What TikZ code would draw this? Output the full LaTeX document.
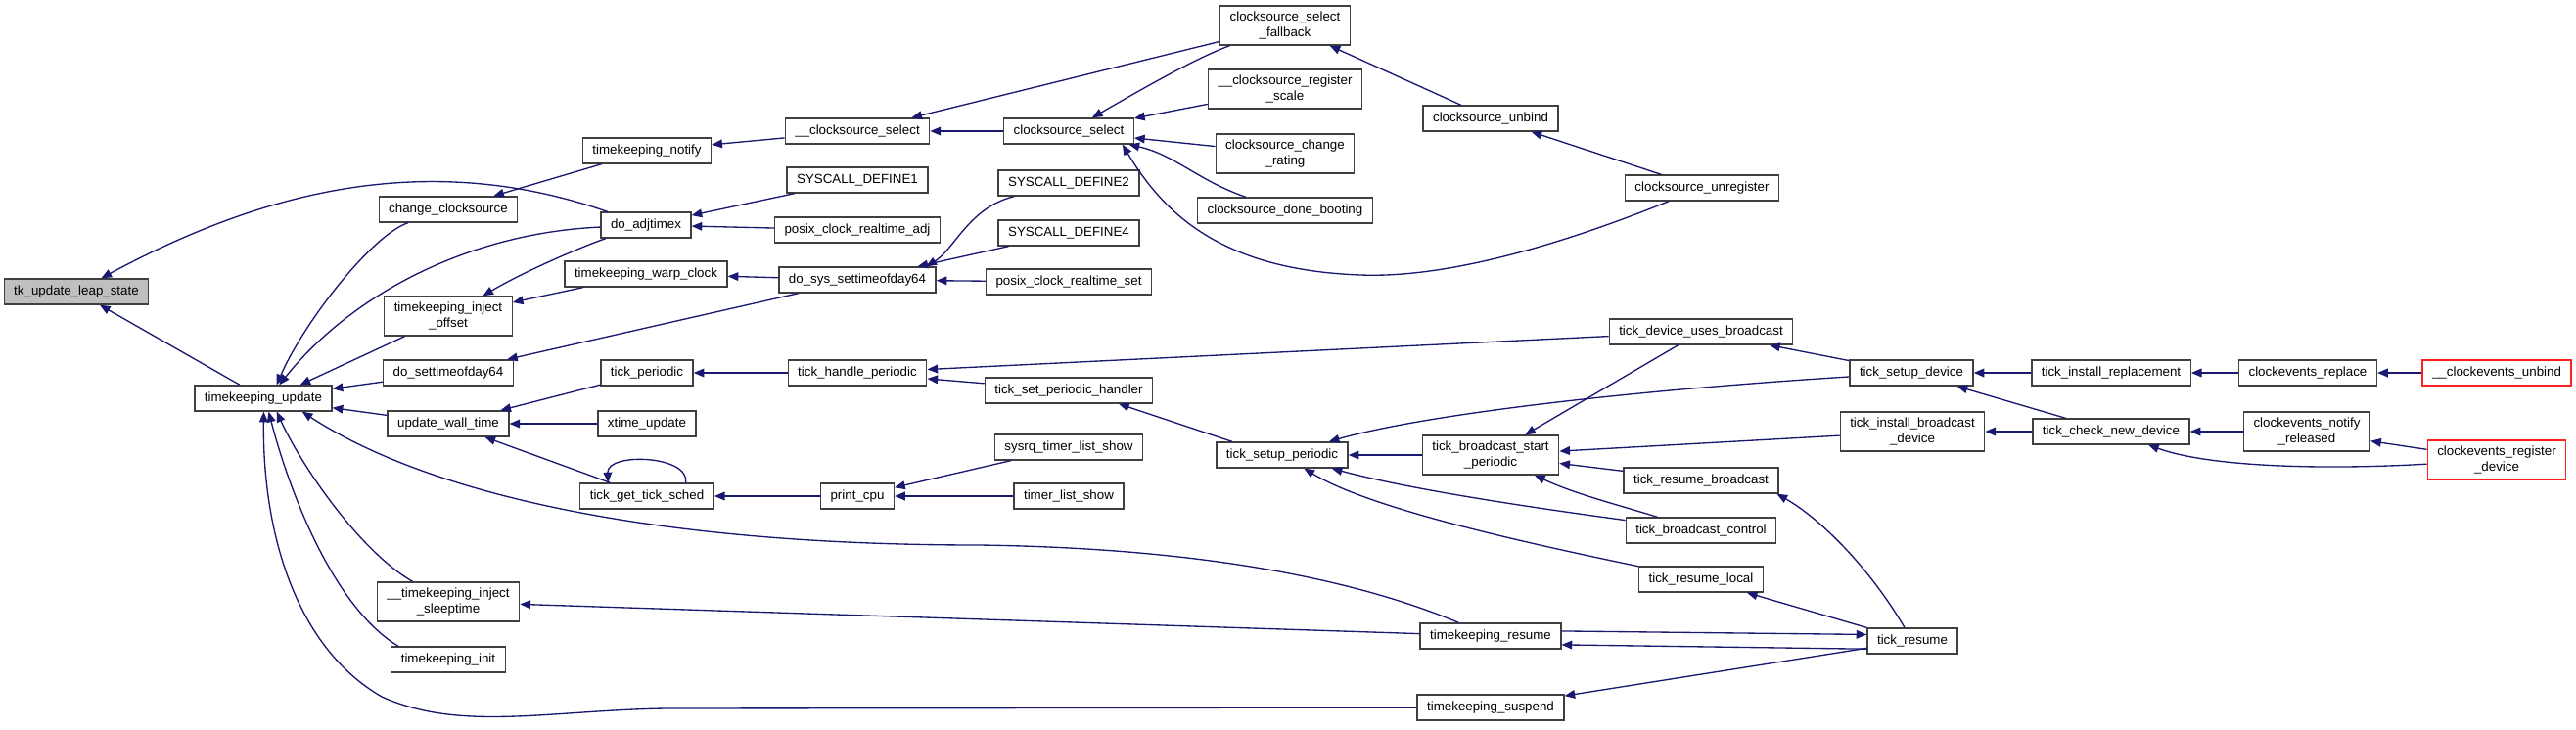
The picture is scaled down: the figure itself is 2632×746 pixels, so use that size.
\documentclass[tikz,border=0pt]{standalone}
\usepackage{fontspec}
\setmainfont{Liberation Sans}
\usetikzlibrary{arrows.meta}

\definecolor{edgeblue}{HTML}{191970}
\definecolor{boxline}{HTML}{404040}
\definecolor{truncred}{HTML}{FF2020}

\begin{document}
\begin{tikzpicture}[x=0.75pt, y=-0.75pt,
  fn/.style={draw=boxline, line width=1pt, fill=white, inner xsep=7.5pt, inner ysep=2pt,
    minimum height=19.5pt, font=\fontsize{10}{11.5}\selectfont},
  twoline/.style={align=center, minimum height=30pt},
  focus/.style={fill=black!25},
  trunc/.style={draw=truncred},
  calls/.style={-{Triangle[length=8pt,width=6.5pt]}, draw=edgeblue, line width=1pt}]

\useasboundingbox (0,0) rectangle (2632,746);

% Functions, column by column
\node[fn, focus] (leap) at (78,298) {tk\_update\_leap\_state};
\node[fn] (tku) at (269,407) {timekeeping\_update};

\node[fn] (chcs) at (458,214) {change\_clocksource};
\node[fn, twoline] (inoff) at (458,323) {timekeeping\_inject\\\_offset};
\node[fn] (dosettod) at (458,381) {do\_settimeofday64};
\node[fn] (uwt) at (458,433) {update\_wall\_time};
\node[fn, twoline] (insleep) at (458,615) {\_\_timekeeping\_inject\\\_sleeptime};
\node[fn] (tkinit) at (458,674) {timekeeping\_init};

\node[fn] (tknotify) at (661,154) {timekeeping\_notify};
\node[fn] (adjtimex) at (660,230) {do\_adjtimex};
\node[fn] (warp) at (660,280) {timekeeping\_warp\_clock};
\node[fn] (tickper) at (661,381) {tick\_periodic};
\node[fn] (xtime) at (661,433) {xtime\_update};
\node[fn] (getsched) at (661,507) {tick\_get\_tick\_sched};

\node[fn] (csselu) at (876,134) {\_\_clocksource\_select};
\node[fn] (sys1) at (876,184) {SYSCALL\_DEFINE1};
\node[fn] (pcradj) at (876,235) {posix\_clock\_realtime\_adj};
\node[fn] (dosys) at (876,286) {do\_sys\_settimeofday64};
\node[fn] (handleper) at (876,381) {tick\_handle\_periodic};
\node[fn] (printcpu) at (876,507) {print\_cpu};

\node[fn] (cssel) at (1092,134) {clocksource\_select};
\node[fn] (sys2) at (1092,187) {SYSCALL\_DEFINE2};
\node[fn] (sys4) at (1092,238) {SYSCALL\_DEFINE4};
\node[fn] (pcrset) at (1092,288) {posix\_clock\_realtime\_set};
\node[fn] (setperh) at (1092,399) {tick\_set\_periodic\_handler};
\node[fn] (sysrq) at (1092,457) {sysrq\_timer\_list\_show};
\node[fn] (tlshow) at (1092,507) {timer\_list\_show};

\node[fn, twoline] (csfall) at (1313,26) {clocksource\_select\\\_fallback};
\node[fn, twoline] (csregs) at (1313,91) {\_\_clocksource\_register\\\_scale};
\node[fn, twoline] (cschg) at (1313,157) {clocksource\_change\\\_rating};
\node[fn] (csdone) at (1313,215) {clocksource\_done\_booting};
\node[fn] (setupper) at (1310,465) {tick\_setup\_periodic};

\node[fn] (csunbind) at (1523,121) {clocksource\_unbind};
\node[fn, twoline] (bcstart) at (1523,465) {tick\_broadcast\_start\\\_periodic};
\node[fn] (tkresume) at (1523,650) {timekeeping\_resume};
\node[fn] (tksuspend) at (1523,723) {timekeeping\_suspend};

\node[fn] (csunreg) at (1739,192) {clocksource\_unregister};
\node[fn] (tdub) at (1738,339) {tick\_device\_uses\_broadcast};
\node[fn] (resbc) at (1738,491) {tick\_resume\_broadcast};
\node[fn] (bcctrl) at (1738,542) {tick\_broadcast\_control};
\node[fn] (reslocal) at (1738,592) {tick\_resume\_local};

\node[fn] (setupdev) at (1953,381) {tick\_setup\_device};
\node[fn, twoline] (instbc) at (1954,441) {tick\_install\_broadcast\\\_device};
\node[fn] (tickres) at (1954,655) {tick\_resume};

\node[fn] (instrepl) at (2157,381) {tick\_install\_replacement};
\node[fn] (checknew) at (2157,441) {tick\_check\_new\_device};
\node[fn] (cereplace) at (2358,381) {clockevents\_replace};
\node[fn, twoline] (cenotify) at (2357,441) {clockevents\_notify\\\_released};
\node[fn, trunc] (ceunbind) at (2551,381) {\_\_clockevents\_unbind};
\node[fn, trunc, twoline] (ceregister) at (2551,470) {clockevents\_register\\\_device};

% Callers of tk_update_leap_state and timekeeping_update
\draw[calls] (tku) -- (leap);
\draw[calls] (adjtimex) .. controls (430,150) and (260,200) .. (leap);
\draw[calls] (chcs) .. controls (380,240) and (310,330) .. (tku.45);
\draw[calls] (adjtimex) .. controls (480,238) and (360,300) .. (tku.40);
\draw[calls] (inoff) -- (tku.20);
\draw[calls] (dosettod) -- (tku);
\draw[calls] (uwt) -- (tku);
\draw[calls] (tkresume) .. controls (1380,590) and (1220,560) .. (1000,557)
  .. controls (650,557) and (430,500) .. (tku.-19);
\draw[calls] (insleep) .. controls (370,565) and (310,480) .. (tku.-45);
\draw[calls] (tkinit.165) .. controls (340,620) and (295,500) .. (tku.-68);
\draw[calls] (tksuspend) -- (680,724) .. controls (560,726) and (470,748) .. (390,712)
  .. controls (300,660) and (268,540) .. (tku.-88);

% Clocksource side
\draw[calls] (tknotify) -- (chcs);
\draw[calls] (csselu) -- (tknotify);
\draw[calls] (cssel) -- (csselu);
\draw[calls] (csfall) -- (csselu);
\draw[calls] (csfall) .. controls (1220,60) and (1160,95) .. (cssel);
\draw[calls] (csregs) -- (cssel);
\draw[calls] (cschg) -- (cssel);
\draw[calls] (csdone) .. controls (1225,185) and (1200,158) .. (cssel);
\draw[calls] (csunreg) .. controls (1620,240) and (1490,285) .. (1390,281)
  .. controls (1250,276) and (1190,220) .. (cssel.-14);
\draw[calls] (csunbind) -- (csfall);
\draw[calls] (csunreg) -- (csunbind);

% Adjtimex and settimeofday
\draw[calls] (sys1) -- (adjtimex);
\draw[calls] (pcradj) -- (adjtimex);
\draw[calls] (adjtimex) .. controls (600,250) and (540,275) .. (inoff);
\draw[calls] (warp) -- (inoff);
\draw[calls] (dosys) -- (warp);
\draw[calls] (dosys) -- (dosettod);
\draw[calls] (sys2) .. controls (990,212) and (975,255) .. (dosys.11);
\draw[calls] (sys4) -- (dosys);
\draw[calls] (pcrset) -- (dosys);

% Wall time and periodic tick
\draw[calls] (tickper) -- (uwt);
\draw[calls] (xtime) -- (uwt);
\draw[calls] (getsched) -- (uwt);
\draw[calls] (getsched.19) .. controls (705,465) and (620,462) .. (getsched.161);
\draw[calls] (handleper) -- (tickper);
\draw[calls] (setperh) -- (handleper);
\draw[calls] (tdub) -- (handleper);
\draw[calls] (setupper.165) -- (setperh.-15);
\draw[calls] (printcpu) -- (getsched);
\draw[calls] (sysrq) -- (printcpu);
\draw[calls] (tlshow) -- (printcpu);

% tick_setup_periodic and broadcast
\draw[calls] (bcstart) -- (setupper);
\draw[calls] (setupdev) .. controls (1650,400) and (1450,425) .. (setupper);
\draw[calls] (bcctrl) .. controls (1560,518) and (1440,500) .. (setupper);
\draw[calls] (reslocal) .. controls (1560,555) and (1400,520) .. (setupper);
\draw[calls] (tdub) -- (bcstart);
\draw[calls] (instbc) -- (bcstart);
\draw[calls] (resbc) -- (bcstart);
\draw[calls] (bcctrl) .. controls (1650,515) and (1610,505) .. (bcstart);

% Clockevents
\draw[calls] (setupdev) -- (tdub);
\draw[calls] (instrepl) -- (setupdev);
\draw[calls] (checknew) -- (setupdev);
\draw[calls] (checknew) -- (instbc);
\draw[calls] (cereplace) -- (instrepl);
\draw[calls] (ceunbind) -- (cereplace);
\draw[calls] (cenotify) -- (checknew);
\draw[calls] (ceregister) -- (cenotify);
\draw[calls] (ceregister) .. controls (2380,480) and (2260,478) .. (checknew);

% Resume / suspend
\draw[calls] (tickres) .. controls (1910,580) and (1860,530) .. (resbc.-10);
\draw[calls] (tickres) -- (reslocal);
\draw[calls] (tickres.-170) -- (tkresume.-7);
\draw[calls] (tkresume.4) -- (tickres.172);
\draw[calls] (tickres) -- (tksuspend);
\draw[calls] (tkresume) -- (insleep);

\end{tikzpicture}
\end{document}
